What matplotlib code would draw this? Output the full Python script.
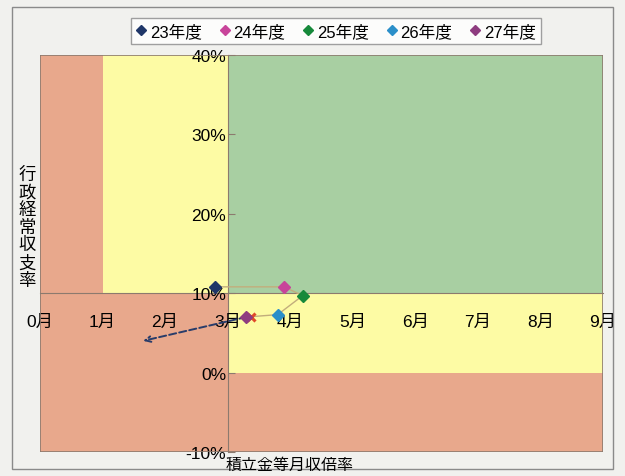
import matplotlib
matplotlib.use("Agg")
import matplotlib.pyplot as plt
from matplotlib.patches import Rectangle
from matplotlib.lines import Line2D

plt.rcParams['font.family'] = ['Liberation Sans', 'Noto Sans CJK JP', 'DejaVu Sans']

# Fiscal years and their position (months of reserve funds, current balance ratio %)
years = ['23年度', '24年度', '25年度', '26年度', '27年度']
reserve_months = [2.8, 3.9, 4.2, 3.8, 3.3]
balance_ratio = [10.8, 10.8, 9.7, 7.3, 7.0]
year_colors = ['#1f3668', '#c8449a', '#16893a', '#2b8fc9', '#8e3c80']

# Additional marked point and projected direction
target_month, target_ratio = 3.38, 7.0
arrow_to = (1.65, 4.0)

x_ticks = list(range(0, 10))
x_labels = [f'{m}月' for m in x_ticks]
y_ticks = [-10, 0, 10, 20, 30, 40]
y_labels = [f'{v}%' for v in y_ticks]

fig = plt.figure(figsize=(6.25, 4.77), dpi=100)
fig.patch.set_facecolor('#f1f1ee')
fig.add_artist(Rectangle((12 / 625, 1 - 470 / 477), 601 / 625, 462 / 477,
                         transform=fig.transFigure, fill=False,
                         edgecolor='#8a8a8a', linewidth=1.0))

ax = fig.add_axes([40 / 625, 1 - 453 / 477, 563 / 625, 397 / 477])
ax.set_xlim(0, 9)
ax.set_ylim(-10, 40)

salmon = '#e8a88c'
yellow = '#fdfba4'
green = '#a8cfa2'
# Zones
ax.add_patch(Rectangle((0, -10), 1, 50, facecolor=salmon, edgecolor='none', zorder=0))
ax.add_patch(Rectangle((1, -10), 2, 20, facecolor=salmon, edgecolor='none', zorder=0))
ax.add_patch(Rectangle((1, 10), 2, 30, facecolor=yellow, edgecolor='none', zorder=0))
ax.add_patch(Rectangle((3, 10), 6, 30, facecolor=green, edgecolor='none', zorder=0))
ax.add_patch(Rectangle((3, 0), 6, 10, facecolor=yellow, edgecolor='none', zorder=0))
ax.add_patch(Rectangle((3, -10), 6, 10, facecolor=salmon, edgecolor='none', zorder=0))
ax.add_patch(Rectangle((0, 0), 1, 1, transform=ax.transAxes, fill=False,
                       edgecolor='#8c7a6e', linewidth=1.2, zorder=5))

# Axes crossing at 3 months / 10%
for s in ['top', 'right']:
    ax.spines[s].set_visible(False)
ax.spines['left'].set_position(('data', 3))
ax.spines['bottom'].set_position(('data', 10))
ax.spines['left'].set_color('#8c7a6e')
ax.spines['bottom'].set_color('#8c7a6e')
ax.spines['left'].set_zorder(1)
ax.spines['bottom'].set_zorder(1)

ax.set_xticks(x_ticks)
ax.set_xticklabels(x_labels, fontsize=12.5)
ax.set_yticks(y_ticks)
ax.set_yticklabels(y_labels, fontsize=12.5)
ax.tick_params(axis='x', length=0, pad=15)
ax.tick_params(axis='y', direction='in', length=5, color='#8c7a6e', pad=1)

# Trajectory
ax.plot(reserve_months, balance_ratio, color='#c2ad7c', linewidth=1.0, zorder=2)
for xm, yr, c in zip(reserve_months, balance_ratio, year_colors):
    ax.plot(xm, yr, marker='D', markersize=6, color=c, linestyle='none', zorder=4)
ax.plot(target_month, target_ratio, marker='x', markersize=6, mew=2.2,
        color='#e0482a', linestyle='none', zorder=3)

ax.annotate('', xy=arrow_to, xytext=(reserve_months[-1], balance_ratio[-1]),
            arrowprops=dict(arrowstyle='->', color='#283c6a', linestyle='--',
                            linewidth=1.4, shrinkA=0, shrinkB=0), zorder=3)

# Axis titles
fig.text(27 / 625, 1 - 228 / 477, '\n'.join('行政経常収支率'), ha='center', va='center',
         fontsize=12.5, linespacing=1.12)
fig.text(290 / 625, 1 - 465 / 477, '積立金等月収倍率', ha='center', va='center', fontsize=11.5)

handles = [Line2D([], [], marker='D', color=c, linestyle='none', markersize=5)
           for c in year_colors]
leg = fig.legend(handles, years, loc='center', bbox_to_anchor=(336 / 625, 1 - 32 / 477),
                 ncol=5, fontsize=12, frameon=True, fancybox=False,
                 handlelength=0.6, handletextpad=0.2, columnspacing=1.1,
                 borderpad=0.3)
leg.get_frame().set_edgecolor('#8a8a8a')
leg.get_frame().set_facecolor('white')
leg.get_frame().set_linewidth(1.0)

fig.savefig('out.png', dpi=100, facecolor=fig.get_facecolor())
